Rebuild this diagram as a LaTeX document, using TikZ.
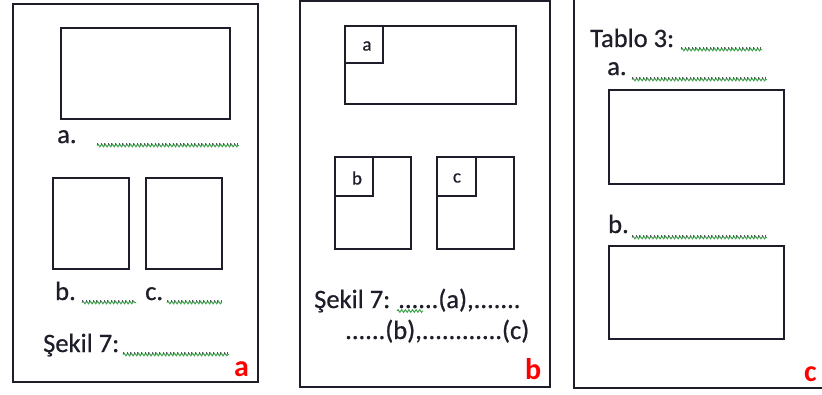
\documentclass[tikz,border=0pt]{standalone}
\usepackage{fontspec}
\setmainfont{Carlito}[FakeBold=0.6]
\newfontfamily\plainfont{Carlito}
\usetikzlibrary{decorations.pathmorphing}
\definecolor{ink}{HTML}{1E1E2A}
\definecolor{wavegreen}{HTML}{3FA34D}
\definecolor{lbl}{HTML}{FF0000}
\tikzset{
  frame/.style={draw=ink,line width=1.5pt},
  box/.style={draw=ink,line width=1.5pt},
  txt/.style={anchor=base west,inner sep=0pt,text=ink,font=\fontsize{26.5}{30}\selectfont},
  small/.style={anchor=center,inner sep=0pt,text=ink,font=\fontsize{19}{21}\selectfont},
  tag/.style={anchor=base west,inner sep=0pt,text=lbl,font=\plainfont\fontsize{30}{32}\selectfont\bfseries},
  wave/.style={draw=wavegreen,line width=1pt,decorate,decoration={snake,amplitude=1.3pt,segment length=3.6pt}},
  dotline/.style={draw=ink!75,line width=1.4pt,dash pattern=on 1pt off 2.6pt}
}
\newcommand{\blankline}[3]{%
  \draw[wave] (#1,#3+1.5) -- (#2,#3+1.5);
  \draw[dotline] (#1,#3) -- (#2,#3);}
\begin{document}
\begin{tikzpicture}[x=1pt,y=-1pt]
\useasboundingbox (0,0) rectangle (822,394);
\clip (0,0) rectangle (822,394);
\fill[white] (0,0) rectangle (822,394);
% ---------- panel a ----------
\draw[frame] (13,4) rectangle (258,382);
\node[box,minimum width=169pt,minimum height=91pt,inner sep=0pt,anchor=north west] (aTop) at (60,27) {};
\node[box,minimum width=76pt,minimum height=91pt,inner sep=0pt,anchor=north west] (aB) at (52,177) {};
\node[box,minimum width=76pt,minimum height=91pt,inner sep=0pt,anchor=north west] (aC) at (145,177) {};
\node[txt] (aLa) at (57,143) {a.};
\blankline{97}{239}{144}
\node[txt] (aLb) at (55,300) {b.};
\blankline{82}{136}{301}
\node[txt] (aLc) at (145,300) {c.};
\blankline{167}{222}{301}
\node[txt] (aCap) at (43,352) {Şekil 7:};
\blankline{123}{229}{353}
\node[tag] (tagA) at (234,376) {a};
% ---------- panel b ----------
\draw[frame] (300,1) rectangle (550,387);
\draw[box] (345,26) rectangle (516,104);
\draw[box] (345,26) rectangle (383,63);
\node[small] (bLa) at (367,46) {a};
\draw[box] (335,157) rectangle (411,249);
\draw[box] (335,157) rectangle (373,196);
\node[small] (bLb) at (357,178) {b};
\draw[box] (437,157) rectangle (514,249);
\draw[box] (437,157) rectangle (476,196);
\node[small] (bLc) at (457,178) {c};
\node[txt] (bCap1) at (314,308) {Şekil 7: ......(a),.......};
\draw[wave] (397,311) -- (423,311);
\node[txt] (bCap2) at (345,339) {......(b),............(c)};
\node[tag] (tagB) at (525,379) {b};
% ---------- panel c ----------
\draw[frame] (574,-10) rectangle (840,388);
\node[txt] (cTitle) at (590,47) {Tablo 3:};
\blankline{681}{762}{48}
\node[txt] (cLa) at (607,75) {a.};
\blankline{632}{767}{78}
\draw[box] (609,90) rectangle (784,184);
\node[txt] (cLb) at (608,233) {b.};
\blankline{632}{767}{236}
\draw[box] (609,246) rectangle (784,339);
\node[tag] (tagC) at (804,381) {c};
\end{tikzpicture}
\end{document}
